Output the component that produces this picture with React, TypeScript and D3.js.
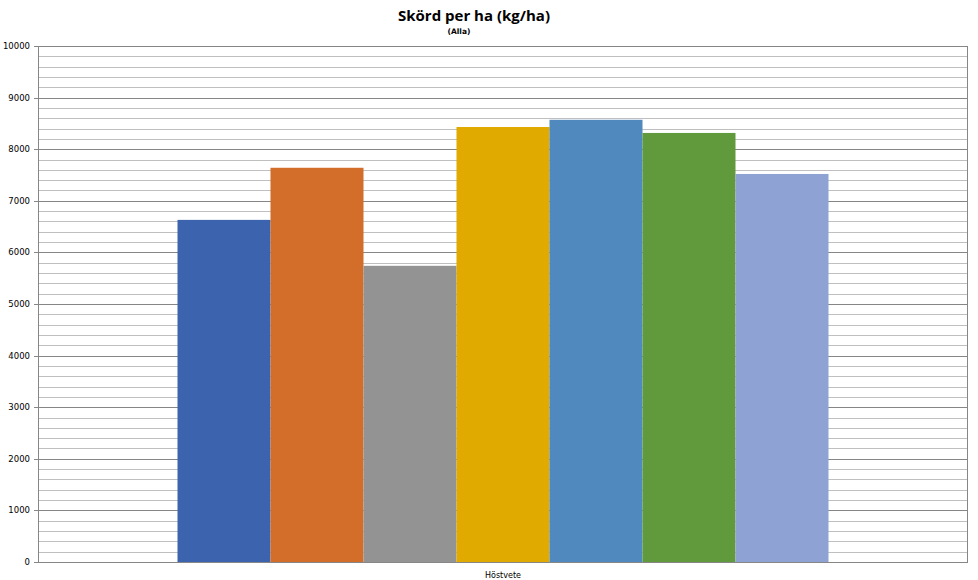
import React from 'react';
import * as d3 from 'd3';

// chart data
const category = 'Höstvete';
const seriesNames = ['S1', 'S2', 'S3', 'S4', 'S5', 'S6', 'S7'];
const seriesValues = [6630, 7640, 5740, 8430, 8570, 8315, 7520];
const seriesColors = ['#3C64AE', '#D36E2A', '#939393', '#E0AA00', '#4F89BD', '#619A3D', '#8EA3D4'];
const yTicks = [0, 1000, 2000, 3000, 4000, 5000, 6000, 7000, 8000, 9000, 10000];

const width = 978;
const height = 580;
const margin = { top: 46, right: 10, bottom: 18, left: 38 };

const App = () => {
    const innerW = width - margin.left - margin.right;
    const innerH = height - margin.top - margin.bottom;

    // group of bars takes 70% of the category width
    const x0 = d3.scaleBand().domain([category]).range([0, innerW]);
    const groupW = x0.bandwidth() * 0.7;
    const groupX = (x0(category) ?? 0) + (x0.bandwidth() - groupW) / 2;
    const x1 = d3.scaleBand().domain(seriesNames).range([groupX, groupX + groupW]);
    const y = d3.scaleLinear().domain([0, 10000]).range([innerH, 0]);

    const minorTicks = d3.range(0, 10001, 200).filter((v) => v % 1000 !== 0);

    return (
        <svg width={width} height={height} style={{ position: 'absolute', left: 0, top: 0 }}>
            <rect width={width} height={height} fill="#fff" />
            <text x={width / 2 - 15} y={21} textAnchor="middle" fontFamily="'Liberation Sans Narrow', 'Open Sans', sans-serif" fontWeight="bold" fontSize={15} fill="#000">
                Skörd per ha (kg/ha)
            </text>
            <text x={width / 2 - 30} y={34} textAnchor="middle" fontFamily="'Liberation Sans Narrow', 'DejaVu Sans', sans-serif" fontWeight="bold" fontSize={7.5} fill="#000">
                (Alla)
            </text>
            <g transform={`translate(${margin.left},${margin.top})`}>
                {minorTicks.map((t) => (
                    <line key={'m' + t} x1={0} x2={innerW} y1={Math.round(y(t)) + 0.5} y2={Math.round(y(t)) + 0.5} stroke="#BFBFBF" strokeWidth={1} />
                ))}
                {yTicks.map((t) => (
                    <g key={t} transform={`translate(0,${Math.round(y(t)) + 0.5})`}>
                        <line x1={0} x2={innerW} stroke="#868686" strokeWidth={1} />
                        <line x1={-4} x2={0} stroke="#868686" strokeWidth={1} />
                        <text x={-8} dy="0.32em" textAnchor="end" fontFamily="'DejaVu Sans', sans-serif" fontSize={8.5} fill="#000">
                            {t}
                        </text>
                    </g>
                ))}
                {seriesValues.map((v, i) => (
                    <rect
                        key={seriesNames[i]}
                        x={x1(seriesNames[i]) ?? 0}
                        y={y(v)}
                        width={x1.bandwidth()}
                        height={innerH - y(v)}
                        fill={seriesColors[i]}
                    />
                ))}
                <line x1={0.5} x2={0.5} y1={0} y2={innerH} stroke="#868686" />
                <line x1={innerW - 0.5} x2={innerW - 0.5} y1={0} y2={innerH} stroke="#868686" />
                <text x={innerW / 2} y={innerH + 16} textAnchor="middle" fontFamily="'DejaVu Sans', sans-serif" fontSize={8} fill="#000">
                    {category}
                </text>
            </g>
        </svg>
    );
};

export default App;
